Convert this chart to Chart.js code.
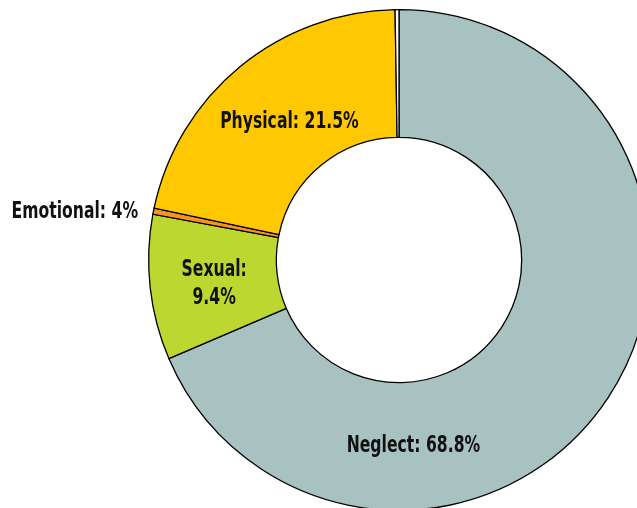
<!DOCTYPE html>
<html>
<head>
<meta charset="utf-8">
<script src="https://cdn.jsdelivr.net/npm/chart.js@4"></script>
<style>
  html, body { margin: 0; padding: 0; background: #fff; overflow: hidden; }
  #wrap { width: 637px; height: 508px; overflow: hidden; }
</style>
</head>
<body>
<div id="wrap"><canvas id="abuseChart" width="660" height="520"></canvas></div>
<script>
// ─── Data ─────────────────────────────────────────────────────
const categories = ['Neglect', 'Sexual', 'Emotional', 'Physical', ''];
const shares     = [68.8, 9.4, 0.4, 21.5, 0.25];
const labelText  = [['Neglect: 68.8%'], ['Sexual:', '9.4%'], ['Emotional: 4%'], ['Physical: 21.5%'], []];
const colours    = ['#a8c2c2', '#bdd731', '#f7941d', '#ffc800', '#ffffff'];

// label anchors (first baseline, centred): polar, deg clockwise from top, fraction of outer radius
const labelAnchor = [
  { deg: 175.7, r: 0.768 },
  { deg: 265.1, r: 0.741 },
  { deg: 277.4, r: 1.306 },
  { deg: 320.3, r: 0.685 },
  null,
];

// condensed look: DejaVu bold squeezed horizontally
const textSqueeze = 0.68;

const sliceLabels = {
  id: 'sliceLabels',
  afterDatasetsDraw(chart) {
    const { ctx } = chart;
    const meta = chart.getDatasetMeta(0);
    meta.data.forEach((arc, i) => {
      const lines = labelText[i];
      if (!lines.length || !labelAnchor[i]) return;
      const a = (labelAnchor[i].deg - 90) * Math.PI / 180;
      const r = labelAnchor[i].r * arc.outerRadius;
      ctx.save();
      ctx.translate(arc.x + Math.cos(a) * r, arc.y + Math.sin(a) * r);
      ctx.scale(textSqueeze, 1);
      ctx.fillStyle = '#111';
      ctx.font = "bold 23px 'DejaVu Sans', sans-serif";
      ctx.textAlign = 'center';
      ctx.textBaseline = 'alphabetic';
      lines.forEach((t, k) => ctx.fillText(t, 0, k * 28));
      ctx.restore();
    });
  },
};

new Chart(document.getElementById('abuseChart').getContext('2d'), {
  type: 'doughnut',
  data: {
    labels: categories,
    datasets: [{
      data: shares,
      backgroundColor: colours,
      borderColor: '#000',
      borderWidth: 1.3,
      borderJoinStyle: 'miter',
    }],
  },
  options: {
    responsive: false,
    animation: false,
    cutout: '49%',
    layout: { padding: { left: 148, top: 9, right: 10, bottom: 9 } },
    plugins: { legend: { display: false }, tooltip: { enabled: false } },
  },
  plugins: [sliceLabels],
});
</script>
</body>
</html>
